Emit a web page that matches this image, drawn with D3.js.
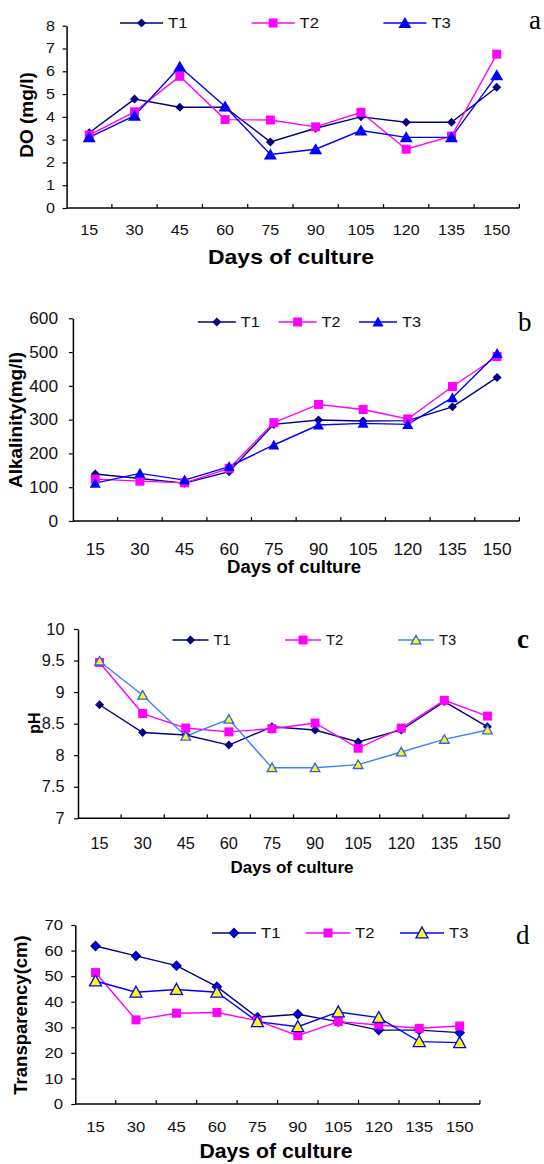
<!DOCTYPE html>
<html>
<head>
<meta charset="utf-8">
<script src="https://cdn.jsdelivr.net/npm/d3@7"></script>
<style>
  body { margin: 0; background: #fff; }
  svg { display: block; font-family: "Liberation Sans", Arial, sans-serif; }
</style>
</head>
<body>
<div id="chart"></div>
<script>
// Days of culture (x categories)
const days = [15, 30, 45, 60, 75, 90, 105, 120, 135, 150];

// a) Dissolved oxygen (mg/l)
const doT1 = [3.3, 4.78, 4.42, 4.42, 2.9, 3.5, 4.0, 3.76, 3.76, 5.3];
const doT2 = [3.2, 4.22, 5.78, 3.88, 3.86, 3.56, 4.2, 2.58, 3.15, 6.75];
const doT3 = [3.1, 4.05, 6.2, 4.45, 2.35, 2.58, 3.4, 3.1, 3.1, 5.82];
const doTicks = [0, 1, 2, 3, 4, 5, 6, 7, 8];

// b) Alkalinity (mg/l)
const alkT1 = [139, 126, 112, 146, 286, 299, 296, 297, 338, 425];
const alkT2 = [124, 118, 113, 156, 291, 345, 330, 302, 398, 487];
const alkT3 = [112, 141, 121, 161, 225, 284, 289, 286, 365, 496];
const alkTicks = [0, 100, 200, 300, 400, 500, 600];

// c) pH
const phT1 = [8.8, 8.36, 8.32, 8.16, 8.45, 8.4, 8.21, 8.4, 8.85, 8.45];
const phT2 = [9.47, 8.66, 8.43, 8.37, 8.42, 8.51, 8.11, 8.43, 8.87, 8.62];
const phT3 = [9.49, 8.95, 8.3, 8.57, 7.8, 7.8, 7.85, 8.05, 8.25, 8.4];
const phTicks = [7, 7.5, 8, 8.5, 9, 9.5, 10];

// d) Transparency (cm)
const trT1 = [61.8, 57.9, 54.1, 45.9, 33.9, 35.1, 32.2, 28.9, 28.9, 27.9];
const trT2 = [51.4, 32.9, 35.5, 35.8, 32.6, 26.7, 32.2, 30.9, 29.6, 30.5];
const trT3 = [48.1, 43.7, 44.8, 43.7, 32.2, 30.2, 36.0, 33.8, 24.4, 24.0];
const trTicks = [0, 10, 20, 30, 40, 50, 60, 70];

const seriesNames = ["T1", "T2", "T3"];

const W = 544, H = 1164;
const svg = d3.select("#chart").append("svg")
  .attr("width", W)
  .attr("height", H);

// marker shapes, m = [half width, height] for the triangle
function shapePath(shape, m) {
  if (shape === "diamond") return "M0,-4.5L4.5,0L0,4.5L-4.5,0Z";
  if (shape === "square") return "M-4.5,-4.5L4.5,-4.5L4.5,4.5L-4.5,4.5Z";
  const hw = m[0], h = m[1];
  return "M0," + (-h * 0.55) + "L" + hw + "," + (h * 0.45) + "L" + (-hw) + "," + (h * 0.45) + "Z";
}

function drawPanel(p) {
  const x = d3.scaleBand()
    .domain(days)
    .range([p.left, p.right])
    .padding(0);
  const y = d3.scaleLinear()
    .domain([p.ticks[0], p.ticks[p.ticks.length - 1]])
    .range([p.bottom, p.top]);
  const s = p.stretch;

  const g = svg.append("g");

  // y axis (outer ticks)
  const yAxis = d3.axisLeft(y)
    .tickValues(p.ticks)
    .tickSize(4)
    .tickSizeOuter(0)
    .tickPadding(0)
    .tickFormat(d3.format("~g"));
  const ya = g.append("g")
    .attr("transform", "translate(" + p.left + ",0)")
    .call(yAxis);
  ya.select(".domain").attr("stroke", "#000").attr("stroke-width", 1.5);
  ya.selectAll(".tick line").attr("stroke", "#000").attr("stroke-width", 1.2);
  ya.selectAll(".tick text")
    .attr("x", -(p.left - p.yLabRight) / s)
    .attr("transform", "scale(" + s + ",1)")
    .attr("fill", "#111")
    .style("font-size", p.tickFont + "px");

  // x axis line with inner ticks at band edges
  g.append("line")
    .attr("x1", p.left).attr("x2", p.right)
    .attr("y1", p.bottom).attr("y2", p.bottom)
    .attr("stroke", "#000").attr("stroke-width", 1.5);
  g.selectAll(".xtick")
    .data(days)
    .enter().append("line")
    .attr("x1", d => x(d) + x.bandwidth())
    .attr("x2", d => x(d) + x.bandwidth())
    .attr("y1", p.bottom)
    .attr("y2", p.bottom - 4)
    .attr("stroke", "#000").attr("stroke-width", 1.2);
  g.selectAll(".xlab")
    .data(days)
    .enter().append("text")
    .attr("transform", d => "translate(" + (x(d) + x.bandwidth() / 2) + "," + p.xLabY + ") scale(" + s + ",1)")
    .attr("text-anchor", "middle")
    .attr("fill", "#111")
    .style("font-size", p.tickFont + "px")
    .text(d => d);

  // axis titles
  g.append("text")
    .attr("x", p.titleX - p.titleW / 2)
    .attr("y", p.titleY)
    .attr("textLength", p.titleW)
    .attr("lengthAdjust", "spacingAndGlyphs")
    .style("font-size", p.titleFont + "px")
    .style("font-weight", "bold")
    .text("Days of culture");
  g.append("text")
    .attr("transform", "translate(" + p.yTitleX + "," + p.yTitleY + ") rotate(-90)")
    .attr("text-anchor", "middle")
    .attr("dy", "0.35em")
    .style("font-size", p.yTitleFont + "px")
    .style("font-weight", "bold")
    .text(p.yTitle);

  // series
  const line = d3.line()
    .x((d, i) => x(days[i]) + x.bandwidth() / 2)
    .y(d => y(d));

  p.series.forEach(sr => {
    g.append("path")
      .datum(sr.values)
      .attr("d", line)
      .attr("fill", "none")
      .attr("stroke", sr.color)
      .attr("stroke-width", 1.4);
  });
  p.series.forEach(sr => {
    g.selectAll(null)
      .data(sr.values)
      .enter().append("path")
      .attr("d", shapePath(sr.shape, p.tri))
      .attr("transform", (d, i) => "translate(" + (x(days[i]) + x.bandwidth() / 2) + "," + y(d) + ")")
      .attr("fill", sr.fill)
      .attr("stroke", sr.stroke)
      .attr("stroke-width", sr.fill === sr.stroke ? 0 : 1.3);
  });

  // legend
  const leg = g.append("g").attr("transform", "translate(0," + p.legY + ")");
  p.series.forEach((sr, i) => {
    const l = p.legX[i];
    leg.append("line")
      .attr("x1", l).attr("x2", l + p.legLen)
      .attr("y1", 0).attr("y2", 0)
      .attr("stroke", sr.color).attr("stroke-width", 1.4);
    leg.append("path")
      .attr("d", shapePath(sr.shape, p.tri))
      .attr("transform", "translate(" + (l + p.legLen / 2) + ",0)")
      .attr("fill", sr.fill)
      .attr("stroke", sr.stroke)
      .attr("stroke-width", sr.fill === sr.stroke ? 0 : 1.3);
    leg.append("text")
      .attr("transform", "translate(" + (l + p.legLen + 5) + ",0) scale(" + s + ",1)")
      .attr("dy", "0.36em")
      .attr("fill", "#111")
      .style("font-size", p.legFont + "px")
      .text(seriesNames[i]);
  });

  // panel letter
  g.append("text")
    .attr("x", p.letterX)
    .attr("y", p.letterY)
    .style("font-family", "'Liberation Serif', 'Times New Roman', serif")
    .style("font-size", "27px")
    .style("font-weight", p.letterBold ? "bold" : "normal")
    .text(p.letter);
}

const navy = "#000080", magenta = "#ff00ff", blue = "#0000ff";

drawPanel({
  left: 66.6, right: 519.4, top: 25.7, bottom: 208,
  ticks: doTicks, tickFont: 14, yLabRight: 55, xLabY: 235, stretch: 1.15,
  titleX: 291, titleY: 264, titleW: 166, titleFont: 21,
  yTitle: "DO (mg/l)", yTitleX: 26, yTitleY: 115, yTitleFont: 19,
  legY: 23, legX: [120, 251.6, 383.4], legLen: 43, legFont: 14.5,
  letter: "a", letterX: 529, letterY: 29, tri: [6.5, 11],
  series: [
    { values: doT1, color: navy, shape: "diamond", fill: navy, stroke: navy },
    { values: doT2, color: magenta, shape: "square", fill: magenta, stroke: magenta },
    { values: doT3, color: blue, shape: "triangle", fill: blue, stroke: blue }
  ]
});

drawPanel({
  left: 72.9, right: 519.4, top: 318.3, bottom: 521,
  ticks: alkTicks, tickFont: 16, yLabRight: 58, xLabY: 555, stretch: 1.08,
  titleX: 294, titleY: 573, titleW: 134, titleFont: 17.5,
  yTitle: "Alkalinity(mg/l)", yTitleX: 15.6, yTitleY: 420, yTitleFont: 19,
  legY: 322, legX: [197.8, 278.6, 359], legLen: 38, legFont: 15,
  letter: "b", letterX: 518, letterY: 331, tri: [5.5, 10],
  series: [
    { values: alkT1, color: navy, shape: "diamond", fill: navy, stroke: navy },
    { values: alkT2, color: magenta, shape: "square", fill: magenta, stroke: magenta },
    { values: alkT3, color: blue, shape: "triangle", fill: blue, stroke: blue }
  ]
});

drawPanel({
  left: 78, right: 509, top: 629, bottom: 818.3,
  ticks: phTicks, tickFont: 16, yLabRight: 64.5, xLabY: 849, stretch: 1.02,
  titleX: 292, titleY: 873, titleW: 123, titleFont: 16.5,
  yTitle: "pH", yTitleX: 34.7, yTitleY: 723, yTitleFont: 16,
  legY: 640, legX: [172.5, 285, 398], legLen: 36, legFont: 14.5,
  letter: "c", letterX: 517, letterY: 648, letterBold: true, tri: [4.8, 8.5],
  series: [
    { values: phT1, color: navy, shape: "diamond", fill: navy, stroke: navy },
    { values: phT2, color: magenta, shape: "square", fill: magenta, stroke: magenta },
    { values: phT3, color: "#3f7fff", shape: "triangle", fill: "#ffff00", stroke: "#2f5fff" }
  ]
});

drawPanel({
  left: 75.3, right: 479.9, top: 925, bottom: 1104,
  ticks: trTicks, tickFont: 14.5, yLabRight: 63, xLabY: 1132, stretch: 1.15,
  titleX: 276, titleY: 1158, titleW: 153, titleFont: 20,
  yTitle: "Transparency(cm)", yTitleX: 20.8, yTitleY: 1015, yTitleFont: 18.5,
  legY: 933, legX: [212, 306, 400], legLen: 44, legFont: 14.5,
  letter: "d", letterX: 516, letterY: 944, tri: [6, 11],
  series: [
    { values: trT1, color: navy, shape: "diamond", fill: blue, stroke: navy },
    { values: trT2, color: magenta, shape: "square", fill: magenta, stroke: magenta },
    { values: trT3, color: blue, shape: "triangle", fill: "#ffff00", stroke: blue }
  ]
});
</script>
</body>
</html>
